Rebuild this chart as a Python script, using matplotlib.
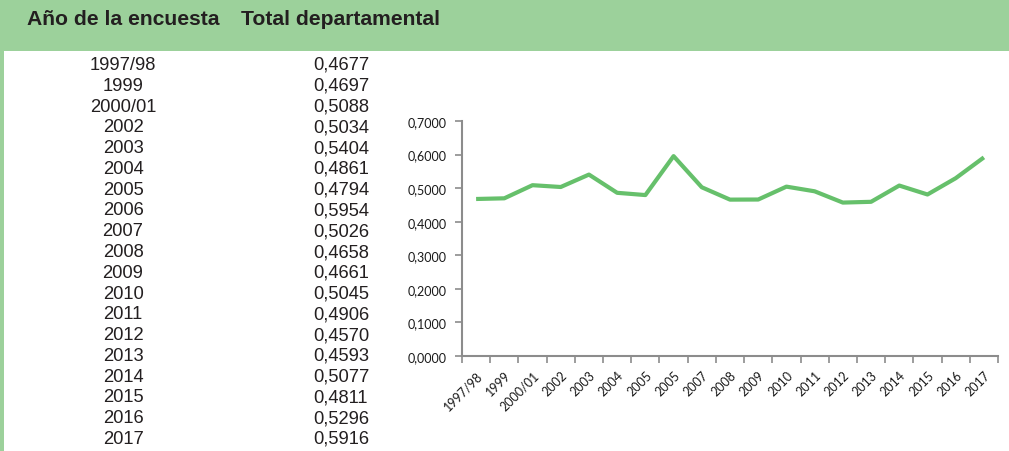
import matplotlib.pyplot as plt
from matplotlib.patches import Rectangle
from matplotlib.ticker import FixedLocator, FuncFormatter

# table / chart data
years = ["1997/98", "1999", "2000/01", "2002", "2003", "2004", "2005", "2006",
         "2007", "2008", "2009", "2010", "2011", "2012", "2013", "2014",
         "2015", "2016", "2017"]
values = [0.4677, 0.4697, 0.5088, 0.5034, 0.5404, 0.4861, 0.4794, 0.5954,
          0.5026, 0.4658, 0.4661, 0.5045, 0.4906, 0.4570, 0.4593, 0.5077,
          0.4811, 0.5296, 0.5916]
# the chart's axis labels (note the duplicated 2005 as in the source)
chart_labels = ["1997/98", "1999", "2000/01", "2002", "2003", "2004", "2005",
                "2005", "2007", "2008", "2009", "2010", "2011", "2012", "2013",
                "2014", "2015", "2016", "2017"]

W, H = 1009, 452
GREEN_BAND = "#9cd19b"
LINE_GREEN = "#66c06b"
AXIS_GREY = "#8c8c8c"
TEXT = "#231f20"


def fmt_comma(v, pos=None):
    return f"{v:.4f}".replace(".", ",")


fig = plt.figure(figsize=(W / 100, H / 100), dpi=100)
fig.patch.set_facecolor("white")

# header band and left strip
fig.patches.append(Rectangle((0, 1 - 52 / H), 1, 52 / H, transform=fig.transFigure,
                             facecolor=GREEN_BAND, edgecolor="none", zorder=0))
fig.patches.append(Rectangle((0, 0), 4 / W, 1, transform=fig.transFigure,
                             facecolor=GREEN_BAND, edgecolor="none", zorder=0))

fig.text(27 / W, 1 - 25 / H, "Año de la encuesta", fontsize=15.2, fontweight="bold",
         family="Liberation Sans", color=TEXT, va="baseline", ha="left")
fig.text(241 / W, 1 - 25 / H, "Total departamental", fontsize=15.2, fontweight="bold",
         family="Liberation Sans", color=TEXT, va="baseline", ha="left")

# table
y0, y1 = 70, 444
step = (y1 - y0) / (len(years) - 1)
for i, (yr, v) in enumerate(zip(years, values)):
    yy = 1 - (y0 + i * step) / H
    fig.text(123 / W, yy, yr, fontsize=13.2, family="Liberation Sans",
             color=TEXT, ha="center", va="baseline")
    fig.text(341 / W, yy, fmt_comma(v), fontsize=13.2, family="Liberation Sans",
             color=TEXT, ha="center", va="baseline")

# line chart
ax = fig.add_axes([462 / W, 1 - 357 / H, (998 - 462) / W, (357 - 122) / H])
x = list(range(len(values)))
ax.plot(x, values, color=LINE_GREEN, lw=3, solid_joinstyle="round",
        solid_capstyle="butt")
ax.set_xlim(-0.5, len(values) - 0.5)
ax.set_ylim(0, 0.7)

for s in ["top", "right"]:
    ax.spines[s].set_visible(False)
for s in ["left", "bottom"]:
    ax.spines[s].set_color(AXIS_GREY)
    ax.spines[s].set_linewidth(1.5)

ax.yaxis.set_major_locator(FixedLocator([0, 0.1, 0.2, 0.3, 0.4, 0.5, 0.6, 0.7]))
ax.yaxis.set_major_formatter(FuncFormatter(fmt_comma))
ax.tick_params(axis="y", direction="out", length=5, width=1.2, color=AXIS_GREY,
               labelsize=9, labelcolor="#1a1a1a", pad=6)

ax.set_xticks(x)
ax.set_xticklabels(chart_labels, rotation=45, ha="right", rotation_mode="anchor",
                   fontsize=9, color="#1a1a1a")
ax.tick_params(axis="x", which="major", length=0, pad=9)
ax.set_xticks([i - 0.5 for i in range(len(values) + 1)], minor=True)
ax.tick_params(axis="x", which="minor", direction="out", length=5, width=1.2,
               color=AXIS_GREY)

for lbl in ax.get_xticklabels() + ax.get_yticklabels():
    lbl.set_family("Lato")

fig.savefig("out.png", dpi=100, facecolor="white")
